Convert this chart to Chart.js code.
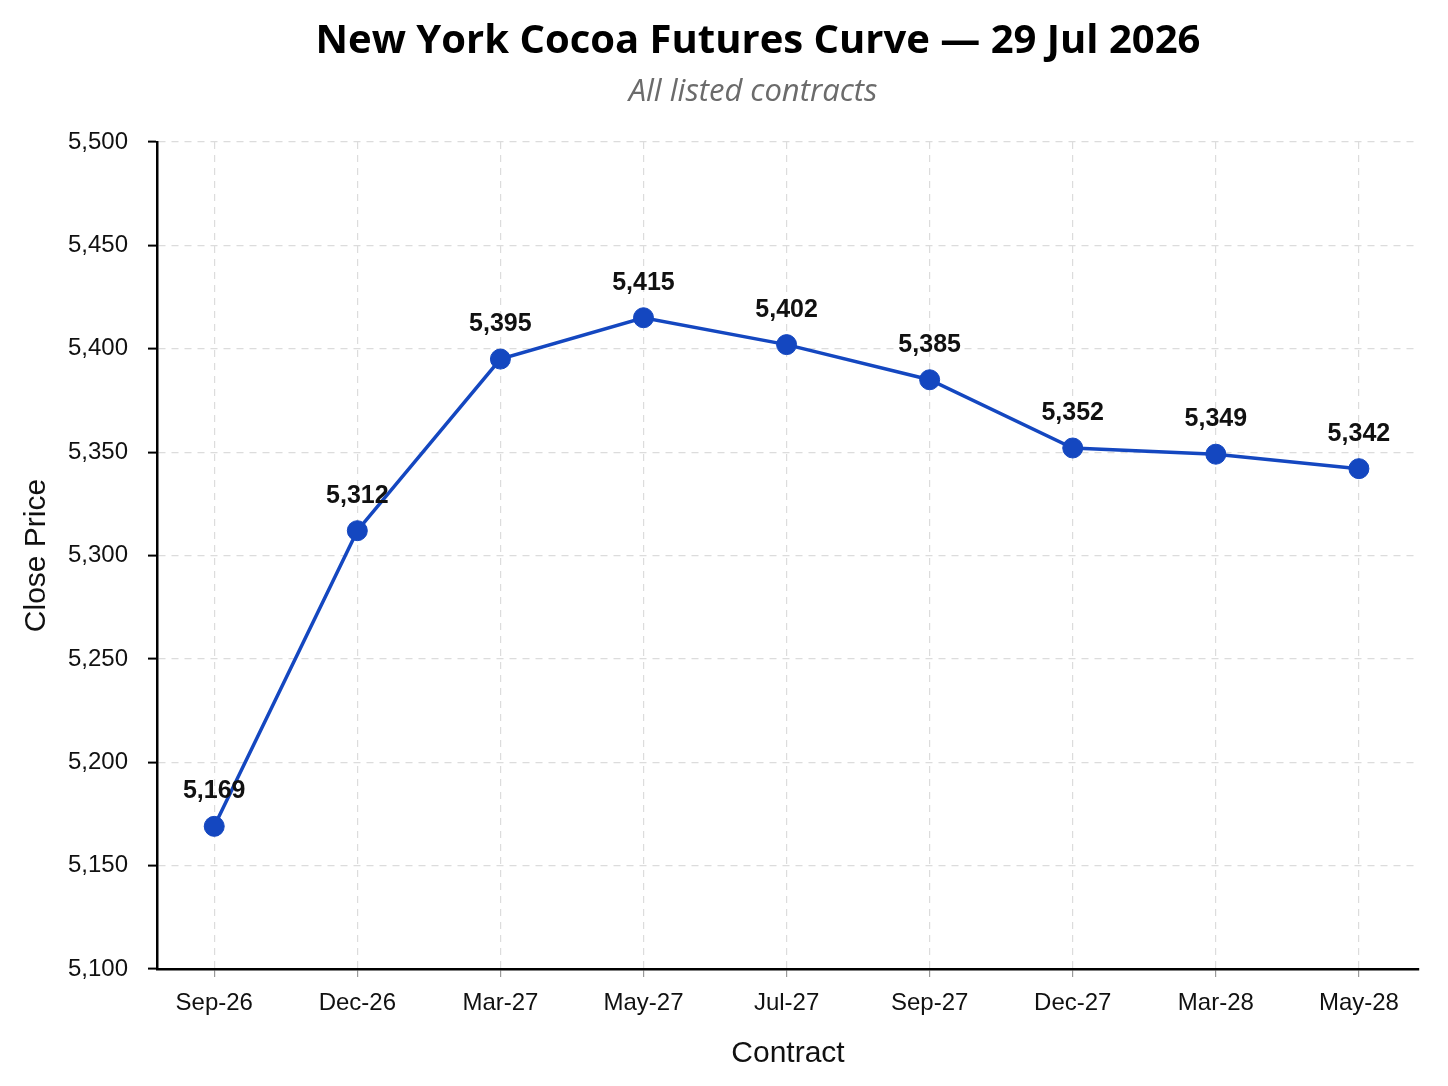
<!DOCTYPE html>
<html>
<head>
<meta charset="utf-8">
<script src="https://cdn.jsdelivr.net/npm/chart.js@4.4.1/dist/chart.umd.min.js"></script>
<style>
  html, body { margin: 0; padding: 0; background: #fff; }
  #wrap { width: 1448px; height: 1086px; }
</style>
</head>
<body>
<div id="wrap"><canvas id="curve" width="1448" height="1086"></canvas></div>
<script>
// contracts and closing prices
var contracts = ["Sep-26", "Dec-26", "Mar-27", "May-27", "Jul-27", "Sep-27", "Dec-27", "Mar-28", "May-28"];
var closePrices = [5169, 5312, 5395, 5415, 5402, 5385, 5352, 5349, 5342];
var yTicks = [5100, 5150, 5200, 5250, 5300, 5350, 5400, 5450, 5500];

var chartTitle = "New York Cocoa Futures Curve \u2014 29 Jul 2026";
var chartSubtitle = "All listed contracts";

var lineBlue = "#1447c0";
var fmt = function (v) { return Number(v).toLocaleString("en-US"); };

// value labels above each point
var pointLabels = {
    id: "pointLabels",
    afterDatasetsDraw: function (chart) {
        var ctx = chart.ctx;
        var meta = chart.getDatasetMeta(0);
        ctx.save();
        ctx.font = "bold 25px 'Liberation Sans', Arial, sans-serif";
        ctx.fillStyle = "#111";
        ctx.textAlign = "center";
        ctx.textBaseline = "middle";
        meta.data.forEach(function (pt, i) {
            ctx.fillText(fmt(closePrices[i]), pt.x, pt.y - 35);
        });
        ctx.restore();
    }
};

// title block sits a little right of the canvas centre in the original
var headings = {
    id: "headings",
    afterDraw: function (chart) {
        var ctx = chart.ctx;
        ctx.save();
        ctx.textAlign = "center";
        ctx.textBaseline = "middle";
        ctx.fillStyle = "#000";
        ctx.font = "bold 40px 'Open Sans', sans-serif";
        ctx.fillText(chartTitle, 758, 42);
        ctx.fillStyle = "#6b6b6b";
        ctx.font = "italic 31px 'Open Sans', sans-serif";
        ctx.fillText(chartSubtitle, 753, 92);
        ctx.restore();
    }
};

var ctx = document.getElementById("curve").getContext("2d");
var chart = new Chart(ctx, {
    type: "line",
    data: {
        datasets: [
            {
                label: "Close",
                data: closePrices.map(function (v, i) { return { x: i, y: v }; }),
                borderColor: lineBlue,
                backgroundColor: lineBlue,
                borderWidth: 3.5,
                pointRadius: 10,
                pointBorderWidth: 1,
                pointBackgroundColor: lineBlue,
                pointBorderColor: lineBlue,
                tension: 0
            }
        ]
    },
    options: {
        responsive: false,
        animation: false,
        layout: { padding: { left: 10, right: 29, top: 142, bottom: 10 } },
        plugins: {
            legend: { display: false },
            tooltip: { enabled: false },
            title: { display: false },
            subtitle: { display: false }
        },
        scales: {
            x: {
                type: "linear",
                min: -0.4,
                max: 8.42,
                afterFit: function (scale) { scale.height = 107; },
                afterBuildTicks: function (scale) {
                    scale.ticks = contracts.map(function (c, i) { return { value: i }; });
                },
                ticks: {
                    autoSkip: false,
                    maxRotation: 0,
                    color: "#111",
                    padding: 12,
                    font: { family: "'Liberation Sans', Arial, sans-serif", size: 24 },
                    callback: function (v) { return contracts[v]; }
                },
                grid: {
                    color: "#dcdcdc",
                    lineWidth: 1.2,
                    tickLength: 8,
                    tickColor: "#999",
                    tickWidth: 1.2
                },
                border: { display: true, color: "#000", width: 2.5, dash: [7, 6] },
                title: {
                    display: true,
                    text: "Contract",
                    color: "#111",
                    font: { family: "'Liberation Sans', Arial, sans-serif", size: 30 },
                    padding: { top: 12, bottom: 4 }
                }
            },
            y: {
                min: 5100,
                max: 5500,
                afterFit: function (scale) { scale.width = 147; },
                afterBuildTicks: function (scale) {
                    scale.ticks = yTicks.map(function (v) { return { value: v }; });
                },
                ticks: {
                    color: "#111",
                    padding: 20,
                    font: { family: "'Liberation Sans', Arial, sans-serif", size: 24 },
                    callback: function (v) { return fmt(v); }
                },
                grid: {
                    color: "#dcdcdc",
                    lineWidth: 1.2,
                    tickLength: 9,
                    tickColor: "#000",
                    tickWidth: 2
                },
                border: { display: true, color: "#000", width: 2.5, dash: [7, 6] },
                title: {
                    display: true,
                    text: "Close Price",
                    color: "#111",
                    font: { family: "'Liberation Sans', Arial, sans-serif", size: 30 },
                    padding: { top: 9, bottom: 6 }
                }
            }
        }
    },
    plugins: [pointLabels, headings]
});
</script>
</body>
</html>
